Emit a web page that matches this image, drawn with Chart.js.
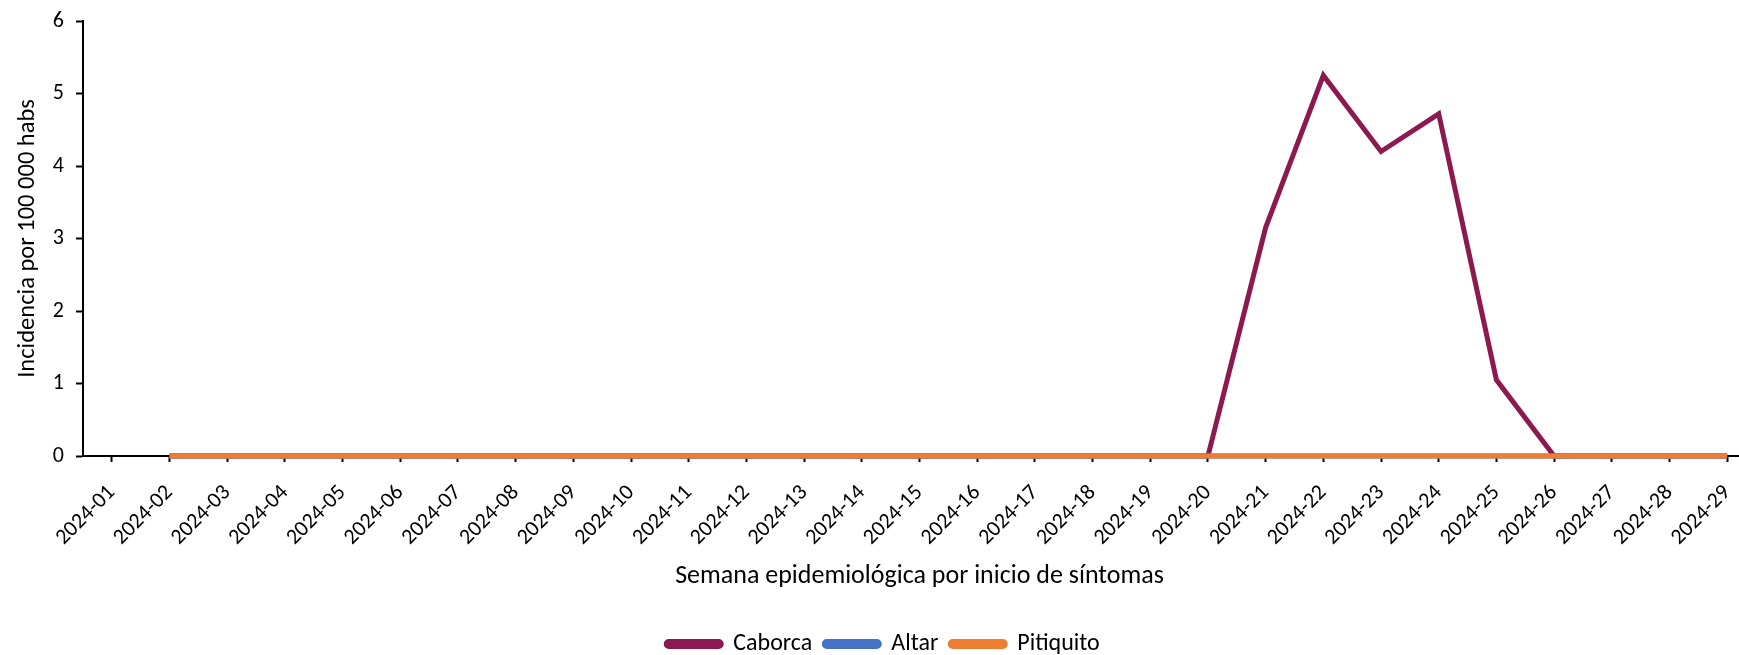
<!DOCTYPE html>
<html>
<head>
<meta charset="utf-8">
<script src="https://cdn.jsdelivr.net/npm/chart.js@4/dist/chart.umd.min.js"></script>
<style>
    html, body { margin: 0; padding: 0; background: #fff; overflow: hidden; }
    #wrap { width: 1760px; height: 655px; }
</style>
</head>
<body>
<div id="wrap"><canvas id="chart" width="1760" height="655"></canvas></div>
<script>
// ==================== DATA ====================
const weeks = [
    '2024-01', '2024-02', '2024-03', '2024-04', '2024-05', '2024-06', '2024-07', '2024-08',
    '2024-09', '2024-10', '2024-11', '2024-12', '2024-13', '2024-14', '2024-15', '2024-16',
    '2024-17', '2024-18', '2024-19', '2024-20', '2024-21', '2024-22', '2024-23', '2024-24',
    '2024-25', '2024-26', '2024-27', '2024-28', '2024-29'
];

const caborca = [
    null, 0, 0, 0, 0, 0, 0, 0, 0, 0, 0, 0, 0, 0, 0, 0, 0, 0, 0, 0,
    3.15, 5.25, 4.2, 4.72, 1.05, 0, 0, 0, 0
];
const altar = [
    null, 0, 0, 0, 0, 0, 0, 0, 0, 0, 0, 0, 0, 0, 0, 0, 0, 0, 0, 0,
    0, 0, 0, 0, 0, 0, 0, 0, 0
];
const pitiquito = [
    null, 0, 0, 0, 0, 0, 0, 0, 0, 0, 0, 0, 0, 0, 0, 0, 0, 0, 0, 0,
    0, 0, 0, 0, 0, 0, 0, 0, 0
];

const yTicks = [0, 1, 2, 3, 4, 5, 6];

const FONT = 'Carlito, Lato, "Open Sans", sans-serif';
const TEXT = '#000000';

// ==================== CHART ====================
const ctx = document.getElementById('chart').getContext('2d');

function lineSet(label, data, color, order) {
    return {
        label,
        data,
        borderColor: color,
        backgroundColor: color,
        borderWidth: 5,
        pointRadius: 0,
        tension: 0,
        fill: false,
        spanGaps: false,
        clip: false,
        order
    };
}

new Chart(ctx, {
    type: 'line',
    data: {
        labels: weeks,
        datasets: [
            lineSet('Caborca', caborca, '#8C1A50', 3),
            lineSet('Altar', altar, '#4472C4', 2),
            lineSet('Pitiquito', pitiquito, '#ED7D31', 1)
        ]
    },
    options: {
        responsive: false,
        animation: false,
        layout: {
            padding: { top: 21, left: 10, right: 4, bottom: -11 }
        },
        plugins: {
            legend: {
                display: true,
                position: 'bottom',
                labels: {
                    color: TEXT,
                    font: { family: FONT, size: 24 },
                    boxWidth: 55,
                    boxHeight: 5,
                    padding: 12,
                    useBorderRadius: true,
                    borderRadius: 2.5,
                    sort: (a, b) => a.datasetIndex - b.datasetIndex
                }
            },
            tooltip: { enabled: false }
        },
        scales: {
            x: {
                type: 'category',
                offset: true,
                afterFit: axis => {
                    axis.height = 164;
                    axis.paddingLeft = 0;
                    axis.paddingRight = 0;
                },
                border: { display: true, color: '#000', width: 2 },
                grid: {
                    offset: false,
                    drawOnChartArea: false,
                    drawTicks: true,
                    tickLength: 6,
                    tickWidth: 2,
                    tickColor: '#000'
                },
                ticks: {
                    color: TEXT,
                    font: { family: FONT, size: 22 },
                    maxRotation: 45,
                    minRotation: 45,
                    autoSkip: false,
                    padding: 18
                },
                title: {
                    display: true,
                    text: 'Semana epidemiológica por inicio de síntomas',
                    color: TEXT,
                    font: { family: FONT, size: 26 },
                    padding: { top: 12, bottom: 28 }
                }
            },
            y: {
                min: 0,
                max: 6,
                afterFit: axis => {
                    axis.width = 73;
                    axis.paddingTop = 0;
                    axis.paddingBottom = 0;
                },
                border: { display: true, color: '#000', width: 2 },
                afterBuildTicks: axis => {
                    axis.ticks = yTicks.map(v => ({ value: v }));
                },
                grid: {
                    drawOnChartArea: false,
                    drawTicks: true,
                    tickLength: 7,
                    tickWidth: 2,
                    tickColor: '#000'
                },
                ticks: {
                    color: TEXT,
                    font: { family: FONT, size: 22 },
                    padding: 12
                },
                title: {
                    display: true,
                    text: 'Incidencia por 100 000 habs',
                    color: TEXT,
                    font: { family: FONT, size: 24.5 },
                    padding: { top: 3, bottom: 6 }
                }
            }
        }
    }
});
</script>
</body>
</html>
